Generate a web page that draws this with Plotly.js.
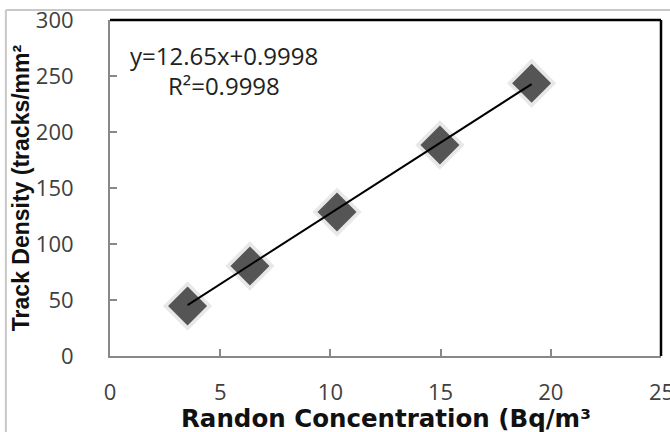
<!DOCTYPE html>
<html>
<head>
<meta charset="utf-8">
<script src="https://cdn.plot.ly/plotly-3.0.1.min.js"></script>
<style>html,body{margin:0;padding:0;background:#fff;}#chart{width:670px;height:432px;}</style>
</head>
<body>
<div id="chart"></div>
<script>
// Data
const radonConc = [3.52, 6.35, 10.3, 14.97, 19.13];
const trackDensity = [44.6, 80.4, 128.5, 188.4, 243.5];
const trendX = [3.52, 19.13];
const trendY = [45.5, 242.8];
const xTicks = [0, 5, 10, 15, 20, 25];
const yTicks = [0, 50, 100, 150, 200, 250, 300];
const eqText = 'y=12.65x+0.9998';
const r2Text = 'R²=0.9998';
const xTitle = 'Randon Concentration (Bq/m³';
const yTitle = 'Track Density (tracks/mm²';

const tickFont = {family: '"Open Sans", Lato, sans-serif', size: 22, color: '#404040'};
const xTitleFont = {family: '"DejaVu Sans", sans-serif', size: 24.5, color: '#111', weight: 'bold'};
const yTitleFont = {family: '"Liberation Sans", Arial, sans-serif', size: 23, color: '#111', weight: 'bold'};
const annFont = {family: '"Open Sans", Lato, sans-serif', size: 24, color: '#222'};

const traces = [
  {x: radonConc, y: trackDensity, mode: 'markers', type: 'scatter', hoverinfo: 'skip',
   marker: {symbol: 'diamond', size: 38, color: 'rgba(0,0,0,0.09)'}},
  {x: radonConc, y: trackDensity, mode: 'markers', type: 'scatter',
   marker: {symbol: 'diamond', size: 30, color: '#555555'}},
  {x: trendX, y: trendY, mode: 'lines', type: 'scatter',
   line: {color: '#000', width: 2}}
];

const layout = {
  width: 670, height: 432,
  margin: {l: 110, r: 9, t: 20, b: 76},
  paper_bgcolor: '#fff', plot_bgcolor: '#fff',
  showlegend: false,
  xaxis: {range: [0, 25], tickvals: xTicks.slice(0, 5), ticktext: xTicks.slice(0, 5).map(String),
    showgrid: false, zeroline: false, showline: true, linecolor: '#888', linewidth: 2,
    ticks: 'inside', ticklen: 7, tickcolor: '#888', tickwidth: 2,
    ticklabelstandoff: 16, tickfont: tickFont},
  yaxis: {range: [0, 300], tickvals: yTicks, ticktext: yTicks.map(String),
    showgrid: false, zeroline: false, showline: true, linecolor: '#888', linewidth: 2,
    ticks: 'inside', ticklen: 7, tickcolor: '#888', tickwidth: 2,
    ticklabelstandoff: 30, tickfont: tickFont,
    title: {text: yTitle, font: yTitleFont, standoff: 0}},
  shapes: [
    {type: 'line', xref: 'paper', yref: 'paper', x0: 0, x1: 1, y0: 1, y1: 1, line: {color: '#000', width: 2.5}},
    {type: 'line', xref: 'paper', yref: 'paper', x0: 1, x1: 1, y0: 0, y1: 1, line: {color: '#000', width: 2.5}},
    {type: 'line', xref: 'paper', yref: 'paper', x0: -0.189, x1: 1.02, y0: 1.03, y1: 1.03, line: {color: '#c8c8c8', width: 2}},
    {type: 'line', xref: 'paper', yref: 'paper', x0: -0.189, x1: -0.189, y0: -0.3, y1: 1.03, line: {color: '#c8c8c8', width: 2}}
  ],
  annotations: [
    {text: eqText, xref: 'x', yref: 'y', x: 5.17, y: 268.5, showarrow: false, xanchor: 'center', yanchor: 'middle', font: annFont},
    {text: r2Text, xref: 'x', yref: 'y', x: 5.17, y: 241.5, showarrow: false, xanchor: 'center', yanchor: 'middle', font: annFont},
    {text: String(xTicks[5]), xref: 'x', yref: 'paper', x: xTicks[5], y: -0.104, showarrow: false, xanchor: 'center', yanchor: 'middle', font: tickFont},
    {text: xTitle, xref: 'paper', yref: 'paper', x: 0.5, y: -0.186, showarrow: false, xanchor: 'center', yanchor: 'middle', font: xTitleFont}
  ]
};

Plotly.newPlot('chart', traces, layout, {displayModeBar: false, staticPlot: true});
</script>
</body>
</html>
